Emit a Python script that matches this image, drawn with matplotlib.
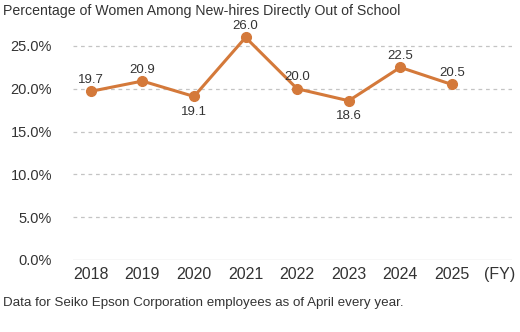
import numpy as np
import matplotlib
matplotlib.use('Agg')
import matplotlib.pyplot as plt
import matplotlib.transforms as mtransforms

plt.rcParams['font.family'] = ['Liberation Sans', 'DejaVu Sans']

# data
years = ['2018', '2019', '2020', '2021', '2022', '2023', '2024', '2025']
ratio = [19.7, 20.9, 19.1, 26.0, 20.0, 18.6, 22.5, 20.5]
# labels below the point for these years
below = ['2020', '2023']
yticks = [0, 5, 10, 15, 20, 25]

orange = '#d4793a'
txt = '#333333'

fig = plt.figure(figsize=(5.2, 3.32), dpi=100)
ax = fig.add_axes([0.140, 0.217, 0.845, 0.709])

x = np.arange(len(years))
ax.plot(x, ratio, '-o', color=orange, lw=2.2, ms=7, zorder=3)

for xi, yr, v in zip(x, years, ratio):
    dy = -7 if yr in below else 4
    va = 'top' if yr in below else 'bottom'
    ax.annotate(f'{v:.1f}', (xi, v), xytext=(0, dy), textcoords='offset points',
                ha='center', va=va, fontsize=9.5, color=txt)

# grid lines
for t in yticks:
    ax.axhline(t, color='#c4c4c4', lw=0.9, ls='-' if t == 0 else (0, (3, 3)), zorder=1)

ax.set_xlim(-0.35, 8.17)
ax.set_ylim(0, 27.5)
ax.set_yticks(yticks)
ax.set_yticklabels([f'{t:.1f}%' for t in yticks], fontsize=10.5, color=txt)
ax.set_xticks(x)
ax.set_xticklabels(years, fontsize=11.5, color=txt)
ax.tick_params(length=0, pad=5)
ax.tick_params(axis='y', pad=15)
for s in ax.spines.values():
    s.set_visible(False)

# unit label on the same line as the years
trans = mtransforms.blended_transform_factory(ax.transData, ax.transAxes)
ax.text(7.92, 0, '(FY)', transform=trans + mtransforms.ScaledTranslation(0, -5 / 72, fig.dpi_scale_trans),
        ha='center', va='top', fontsize=11.5, color=txt)

fig.text(0.006, 0.968, 'Percentage of Women Among New-hires Directly Out of School',
         fontsize=10.2, color=txt, va='center')
fig.text(0.006, 0.087, 'Data for Seiko Epson Corporation employees as of April every year.',
         fontsize=9.6, color=txt, va='center')

fig.savefig('out.png', dpi=100)
